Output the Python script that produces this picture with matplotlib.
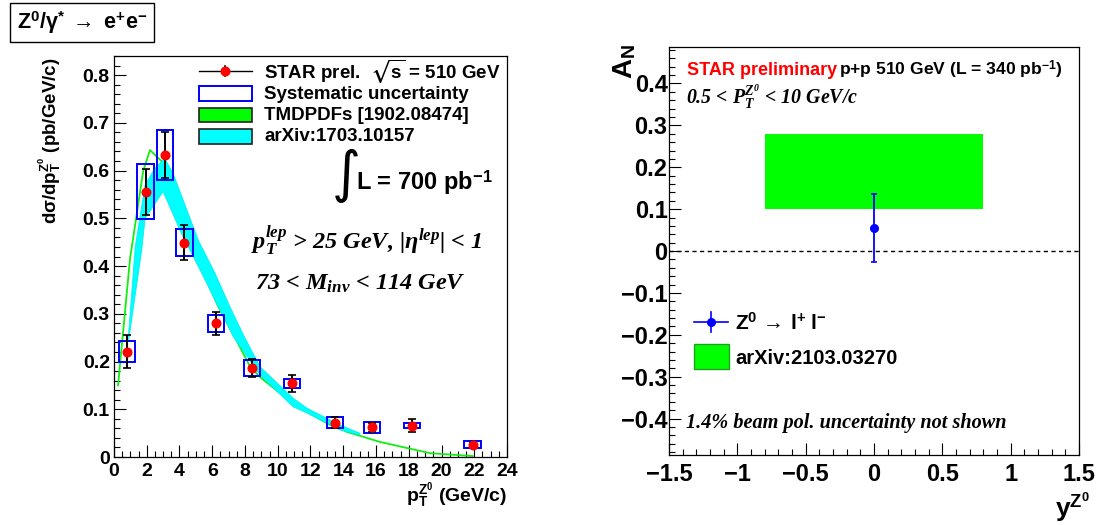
import numpy as np
import matplotlib
matplotlib.use("Agg")
import matplotlib.pyplot as plt
from matplotlib.patches import Rectangle
from matplotlib.lines import Line2D
from matplotlib.ticker import MultipleLocator, FuncFormatter

plt.rcParams.update({
    "font.family": ["Liberation Sans", "DejaVu Sans"],
    "font.weight": "bold",
    "mathtext.fontset": "custom",
    "mathtext.rm": "Liberation Sans:bold",
    "mathtext.bf": "Liberation Sans:bold",
    "mathtext.sf": "Liberation Sans:bold",
    "mathtext.it": "Liberation Serif:italic:bold",
    "mathtext.bfit": "Liberation Serif:italic:bold",
    "mathtext.fallback": "stix",
    "axes.linewidth": 0.9,
})

# ---- Z0 pT spectrum (STAR preliminary, 510 GeV) ----
pt = [0.80, 1.93, 3.13, 4.30, 6.22, 8.42, 10.86, 13.50, 15.75, 18.20, 21.90]
xsec = [0.221, 0.556, 0.632, 0.449, 0.280, 0.186, 0.154, 0.072, 0.062, 0.066, 0.026]
stat_err = [0.035, 0.048, 0.048, 0.037, 0.024, 0.019, 0.018, 0.011, 0.010, 0.013, 0.005]
sys_err = [0.021, 0.058, 0.052, 0.028, 0.018, 0.017, 0.010, 0.012, 0.012, 0.005, 0.007]
sys_half_width = 0.5

# TMDPDFs [1902.08474] prediction
tmd_pt = [0.25, 0.98, 1.79, 2.20, 2.90, 4.84, 6.37, 7.50, 8.30, 8.90, 11.0, 13.2, 14.2, 16.2, 19.3, 21.9]
tmd_xsec = [0.150, 0.415, 0.600, 0.643, 0.620, 0.433, 0.315, 0.243, 0.190, 0.168, 0.110, 0.067, 0.053, 0.032, 0.008, 0.002]

# arXiv:1703.10157 prediction band
band_lo_pt = [0.90, 1.70, 1.90, 3.00, 4.10, 5.36, 6.37, 7.29, 8.92, 10.95, 11.80, 13.80, 15.00]
band_lo = [0.245, 0.435, 0.500, 0.556, 0.470, 0.385, 0.315, 0.252, 0.172, 0.105, 0.092, 0.057, 0.046]
band_hi_pt = [0.90, 1.30, 1.90, 2.50, 3.10, 3.60, 5.15, 6.17, 7.08, 7.90, 8.92, 10.95, 11.80, 13.80, 15.00]
band_hi = [0.260, 0.440, 0.570, 0.605, 0.625, 0.595, 0.454, 0.385, 0.315, 0.256, 0.189, 0.123, 0.102, 0.067, 0.050]

# ---- A_N vs rapidity ----
rap = [0.0]
an = [0.055]
an_err = [0.081]
model_rap = [-0.8, 0.8]
model_an_lo = 0.10
model_an_hi = 0.28

SERIF_BI = dict(family="Liberation Serif", style="italic", fontweight="bold")


def fmt(v, _):
    v = round(v, 3)
    if abs(v) < 1e-9:
        return "0"
    s = f"{abs(v):g}"
    return ("\u2212" + s) if v < 0 else s


def style(ax, labelsize, xpad, ypad):
    ax.tick_params(which="both", direction="in", top=False, right=False,
                   width=0.8, colors="black")
    ax.tick_params(which="major", length=8.6)
    ax.tick_params(which="minor", length=4.3)
    ax.tick_params(axis="x", labelsize=labelsize, pad=xpad)
    ax.tick_params(axis="y", labelsize=labelsize, pad=ypad)
    ax.xaxis.set_major_formatter(FuncFormatter(fmt))
    ax.yaxis.set_major_formatter(FuncFormatter(fmt))
    for lab in ax.get_xticklabels() + ax.get_yticklabels():
        lab.set_fontweight("bold")


fig = plt.figure(figsize=(11.01, 5.25), dpi=100)
ax1 = fig.add_axes([0.1035, 0.1295, 0.357, 0.7638])
ax2 = fig.add_axes([0.6076, 0.1333, 0.3724, 0.7771])

# ---------------- left panel ----------------
ax1.plot(tmd_pt, tmd_xsec, color="#11ee11", lw=1.3, zorder=2)
poly_x = np.concatenate([band_lo_pt, band_hi_pt[::-1]])
poly_y = np.concatenate([band_lo, band_hi[::-1]])
ax1.fill(poly_x, poly_y, color="#00ffff", ec="#00f0f0", lw=0.6, zorder=3)

for x, y, s in zip(pt, xsec, sys_err):
    ax1.add_patch(Rectangle((x - sys_half_width, y - s), 2 * sys_half_width, 2 * s,
                            fill=False, ec="#0000ff", lw=1.4, zorder=4))
ax1.errorbar(pt, xsec, yerr=stat_err, fmt="none", ecolor="black", elinewidth=1.4,
             capsize=2.6, capthick=1.2, zorder=5)
ax1.plot(pt, xsec, "o", color="#ff0000", ms=6.2, mec="#ff0000", zorder=6)

ax1.set_xlim(0, 24)
ax1.set_ylim(0, 0.84)
ax1.xaxis.set_major_locator(MultipleLocator(2))
ax1.xaxis.set_minor_locator(MultipleLocator(0.5))
ax1.yaxis.set_major_locator(MultipleLocator(0.1))
ax1.yaxis.set_minor_locator(MultipleLocator(0.02))
style(ax1, 14, 4, 3)

T1 = ax1.transAxes
ax1.add_line(Line2D([0.216, 0.351], [0.963, 0.963], transform=T1, color="black", lw=1))
ax1.add_line(Line2D([0.2835, 0.2835], [0.951, 0.975], transform=T1, color="black", lw=1.2))
ax1.add_line(Line2D([0.2835], [0.963], transform=T1, marker="o", color="#ff0000", ms=6.2))
ax1.add_patch(Rectangle((0.216, 0.889), 0.135, 0.036, transform=T1, fill=False,
                        ec="#0000ff", lw=1.4))
ax1.add_patch(Rectangle((0.216, 0.836), 0.135, 0.035, transform=T1, fc="#00ff00",
                        ec="#202020", lw=1.2))
ax1.add_patch(Rectangle((0.216, 0.781), 0.135, 0.037, transform=T1, fc="#00ffff",
                        ec="#202020", lw=1.2))
leg_size = 13.5
ax1.text(0.382, 0.946, r"STAR prel.  $\sqrt{\mathbf{s}}$ = 510 GeV", transform=T1,
         fontsize=leg_size, fontweight="bold", va="baseline", ha="left")
ax1.text(0.382, 0.893, "Systematic uncertainty", transform=T1, fontsize=leg_size,
         fontweight="bold", va="baseline", ha="left")
ax1.text(0.382, 0.840, "TMDPDFs [1902.08474]", transform=T1, fontsize=leg_size,
         fontweight="bold", va="baseline", ha="left")
ax1.text(0.382, 0.788, "arXiv:1703.10157", transform=T1, fontsize=leg_size,
         fontweight="bold", va="baseline", ha="left")

ax1.text(0.592, 0.700, "\u222b", transform=T1, fontsize=40, family="DejaVu Sans",
         fontweight="normal", ha="center", va="center")
ax1.text(0.615, 0.666, r"L = 700 pb$^{-1}$", transform=T1, fontsize=17,
         fontweight="bold", ha="left", va="baseline")
ax1.text(0.349, 0.520, "p$_{T}^{lep}$ > 25 GeV, |\u03b7$^{lep}$| < 1",
         transform=T1, fontsize=17.5, ha="left", va="baseline", **SERIF_BI)
ax1.text(0.359, 0.418, "73 < M$_{inv}$ < 114 GeV",
         transform=T1, fontsize=17.5, ha="left", va="baseline", **SERIF_BI)

fig.text(507 / 1101, 1 - 503 / 525, r"p$_{\mathbf{T}}^{\mathbf{Z^{0}}}$ (GeV/c)", fontsize=14,
         fontweight="bold", ha="right", va="baseline")
fig.text(36 / 1101, 1 - 57 / 525, "d\u03c3/dp" + r"$_{\mathbf{T}}^{\mathbf{Z^{0}}}$ (pb/GeV/c)",
         fontsize=13.5, fontweight="bold", rotation=90, ha="left", va="top")
fig.text(82 / 1101, 1 - 22.5 / 525,
         "Z$^{0}$/\u03b3$^{*}$ $\\rightarrow$ e$^{+}$e$^{-}$",
         fontsize=15.5, fontweight="bold", ha="center", va="center",
         bbox=dict(boxstyle="square,pad=0.3", fc="white", ec="black", lw=1))

# ---------------- right panel ----------------
ax2.fill_between(model_rap, model_an_lo, model_an_hi, color="#00ff00", lw=0, zorder=2)
ax2.axhline(0, color="black", lw=1, ls=(0, (3, 2.5)), zorder=3)
ax2.errorbar(rap, an, yerr=an_err, fmt="o", color="#0000ff", ms=5.5, elinewidth=1.3,
             capsize=2.5, capthick=1.2, zorder=5)

ax2.set_xlim(-1.5, 1.5)
ax2.set_ylim(-0.487, 0.487)
ax2.xaxis.set_major_locator(MultipleLocator(0.5))
ax2.xaxis.set_minor_locator(MultipleLocator(0.1))
ax2.yaxis.set_major_locator(MultipleLocator(0.1))
ax2.yaxis.set_minor_locator(MultipleLocator(0.02))
style(ax2, 17, 6, 1)

T2 = ax2.transAxes
ax2.text(0.044, 0.931, "STAR preliminary", transform=T2, color="#ff0000", fontsize=13,
         fontweight="bold", ha="left", va="baseline")
ax2.text(0.415, 0.931, r"p+p 510 GeV (L = 340 pb$^{-1}$)", transform=T2,
         fontsize=12.6, fontweight="bold", ha="left", va="baseline")
ax2.text(0.041, 0.860, r"0.5 < P$_{T}^{Z^{\mathbfit{0}}}$ < 10 GeV/c", transform=T2,
         fontsize=14.3, ha="left", va="baseline", **SERIF_BI)
ax2.text(0.041, 0.065, "1.4% beam pol. uncertainty not shown", transform=T2,
         fontsize=14.6, ha="left", va="baseline", **SERIF_BI)

ax2.add_line(Line2D([0.061, 0.143], [0.326, 0.326], transform=T2, color="#0000ff", lw=1.2))
ax2.add_line(Line2D([0.102, 0.102], [0.301, 0.351], transform=T2, color="#0000ff", lw=1.2))
ax2.add_line(Line2D([0.102], [0.326], transform=T2, marker="o", color="#0000ff", ms=5.5))
ax2.add_patch(Rectangle((0.061, 0.211), 0.085, 0.060, transform=T2, fc="#00ff00",
                        ec="#1f9f1f", lw=1.0))
ax2.text(0.161, 0.306, "Z$^{0}$ $\\!\\rightarrow\\!$ l$^{+}$ l$^{-}$", transform=T2,
         fontsize=15, fontweight="bold", ha="left", va="baseline")
ax2.text(0.161, 0.222, "arXiv:2103.03270", transform=T2, fontsize=14.5,
         fontweight="bold", ha="left", va="baseline")

fig.text(625 / 1101, 1 - 44 / 525, r"A$_{\mathbf{N}}$", fontsize=20, fontweight="bold",
         rotation=90, ha="center", va="top")
fig.text(1090 / 1101, 0.002, r"y$^{\mathbf{Z^{0}}}$", fontsize=19, fontweight="bold",
         ha="right", va="bottom")

fig.savefig("out.png", dpi=100)
